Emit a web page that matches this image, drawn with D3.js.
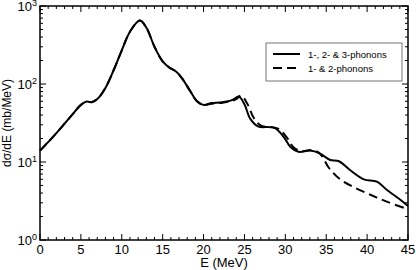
<!DOCTYPE html>
<html>
<head>
<meta charset="utf-8">
<script src="https://cdn.jsdelivr.net/npm/d3@7"></script>
<style>
body { margin: 0; background: #fff; }
svg { font-family: "Liberation Sans", Arial, sans-serif; }
</style>
</head>
<body>
<svg id="chart" width="416" height="270"></svg>
<script>
// values
var solidE = [0, 1, 2, 3, 4, 5, 5.7, 6.3, 7, 8, 9, 10, 11, 12.2, 13, 14, 15, 15.8, 16.7, 17.5, 18.4, 19.2, 20, 21, 22, 23, 23.6, 24.3, 25, 25.7, 26.7, 28, 28.8, 29.8, 30.6, 31.6, 33, 34.2, 35.5, 36.5, 37.9, 39.6, 41.2, 42.4, 44.1, 45];
var solidV = [14, 18, 23.5, 31, 41, 54, 59.5, 58.5, 64, 89, 150, 270, 468, 650, 530, 300, 195, 163, 143, 113, 80, 60, 54, 57, 58, 60, 63, 69, 55, 36, 28.5, 28, 27, 21, 15.7, 13.5, 14, 12.9, 10.6, 10.3, 7.9, 6.0, 5.6, 4.4, 3.26, 2.73];

var dashE = [0, 1, 2, 3, 4, 5, 5.7, 6.3, 7, 8, 9, 10, 11, 12.2, 13, 14, 15, 15.8, 16.7, 17.5, 18.4, 19.2, 20, 21, 22, 23, 24, 24.6, 25.3, 26.2, 27.1, 28.4, 29.2, 30.2, 31, 32, 33.4, 34.3, 35.3, 36.7, 38.3, 40.4, 42.4, 45];
var dashV = [14, 18, 23.5, 31, 41, 54, 59.5, 58.5, 64, 89, 150, 270, 468, 650, 530, 300, 195, 163, 143, 113, 80, 60, 54, 56, 57, 59, 64, 71, 57, 36, 29, 28, 26.5, 20.5, 15.5, 13.8, 14.2, 12.6, 8.5, 6.0, 4.8, 3.8, 3.1, 2.48];

var xTicks = [0, 5, 10, 15, 20, 25, 30, 35, 40, 45];
var yTicks = [1, 10, 100, 1000];
var legendLabels = ["1-, 2- & 3-phonons", "1- & 2-phonons"];

var svg = d3.select("#chart");
var pl = 40, pr = 408, pt = 6, pb = 240;

var x = d3.scaleLinear().domain([0, 45]).range([pl, pr]);
var y = d3.scaleLog().domain([1, 1000]).range([pb, pt]);

var line = d3.line()
	.x(function(d) { return x(d[0]); })
	.y(function(d) { return y(d[1]); })
	.curve(d3.curveCatmullRom.alpha(0.5));

var solid = d3.zip(solidE, solidV);
var dashed = d3.zip(dashE, dashV);

svg.append("path")
	.datum(dashed)
	.attr("d", line)
	.attr("fill", "none")
	.attr("stroke", "#000")
	.attr("stroke-width", 2)
	.attr("stroke-dasharray", "9,5");

svg.append("path")
	.datum(solid)
	.attr("d", line)
	.attr("fill", "none")
	.attr("stroke", "#000")
	.attr("stroke-width", 2);

// minor ticks
var xMinor = d3.range(0, 46, 1);
var yMinor = [];
[1, 10, 100].forEach(function(b) { for (var k = 2; k <= 9; k++) yMinor.push(b * k); });

var g = svg.append("g").attr("stroke", "#000").attr("stroke-width", 1);

xMinor.forEach(function(v) {
	var len = (v % 5 === 0) ? 6 : 3;
	g.append("line").attr("x1", x(v)).attr("x2", x(v)).attr("y1", pb).attr("y2", pb - len);
	g.append("line").attr("x1", x(v)).attr("x2", x(v)).attr("y1", pt).attr("y2", pt + len);
});
yMinor.concat(yTicks).forEach(function(v) {
	var len = (yTicks.indexOf(v) >= 0) ? 6 : 3;
	g.append("line").attr("y1", y(v)).attr("y2", y(v)).attr("x1", pl).attr("x2", pl + len);
	g.append("line").attr("y1", y(v)).attr("y2", y(v)).attr("x1", pr).attr("x2", pr - len);
});

// frame
svg.append("rect")
	.attr("x", pl).attr("y", pt)
	.attr("width", pr - pl).attr("height", pb - pt)
	.attr("fill", "none")
	.attr("stroke", "#000")
	.attr("stroke-width", 1.5);

// tick labels
svg.selectAll(".xl").data(xTicks).enter().append("text")
	.attr("class", "xl")
	.attr("x", function(d) { return x(d); })
	.attr("y", pb + 14)
	.attr("text-anchor", "middle")
	.attr("font-size", 13)
	.text(function(d) { return d; });

var yl = svg.selectAll(".yl").data(yTicks).enter().append("text")
	.attr("class", "yl")
	.attr("x", pl - 3)
	.attr("y", function(d) { return y(d) + 5; })
	.attr("text-anchor", "end")
	.attr("font-size", 13);
yl.append("tspan").text("10");
yl.append("tspan")
	.attr("dy", -5)
	.attr("font-size", 9)
	.text(function(d) { return Math.round(Math.log10(d)); });

// axis titles
svg.append("text")
	.attr("x", (pl + pr) / 2)
	.attr("y", 267)
	.attr("text-anchor", "middle")
	.attr("font-size", 13)
	.text("E (MeV)");

svg.append("text")
	.attr("transform", "translate(11," + ((pt + pb) / 2) + ") rotate(-90)")
	.attr("text-anchor", "middle")
	.attr("font-size", 12)
	.text("d\u03C3/dE  (mb/MeV)");

// legend
var lg = svg.append("g").attr("transform", "translate(266,43)");
lg.append("rect")
	.attr("width", 136).attr("height", 38)
	.attr("fill", "#fff")
	.attr("stroke", "#777")
	.attr("stroke-width", 1);

legendLabels.forEach(function(t, i) {
	var yy = 11 + i * 14;
	lg.append("line")
		.attr("x1", 7).attr("x2", 34)
		.attr("y1", yy).attr("y2", yy)
		.attr("stroke", "#000")
		.attr("stroke-width", 2)
		.attr("stroke-dasharray", i === 1 ? "9,5" : null);
	lg.append("text")
		.attr("x", 42)
		.attr("y", yy + 3.5)
		.attr("font-size", 9.5)
		.text(t);
});
</script>
</body>
</html>
